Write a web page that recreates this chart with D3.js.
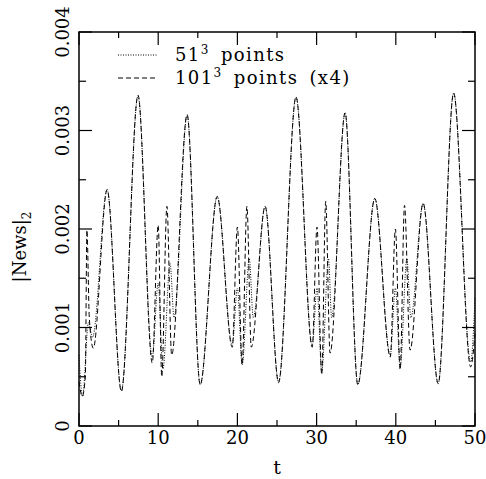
<!DOCTYPE html>
<html>
<head>
<meta charset="utf-8">
<script src="https://cdn.jsdelivr.net/npm/d3@7/dist/d3.min.js"></script>
<style>
  body { margin: 0; background: #fff; }
  svg { display: block; }
  text { font-family: "DejaVu Serif", serif; fill: #000; }
</style>
</head>
<body>
<div id="chart"></div>
<script>
// 51^3 points (dotted)
const coarseT = [0, 0.45, 1.2, 1.7, 3.55, 5.35, 7.45, 9.25, 10.0, 10.6, 11.5, 12.0, 13.65, 15.3, 17.45, 19.35, 20.0, 20.6, 21.5, 22.0, 23.5, 25.2, 27.4, 29.45, 30.05, 30.65, 31.5, 31.9, 33.6, 35.2, 37.35, 39.3, 39.95, 40.55, 41.4, 41.9, 43.45, 45.35, 47.3, 49.45, 50];
const coarseV = [0.00072, 0.0003, 0.00105, 0.0009, 0.0024, 0.00036, 0.00335, 0.0007, 0.00145, 0.00058, 0.00165, 0.0011, 0.00316, 0.00042, 0.00233, 0.00082, 0.0014, 0.00062, 0.0017, 0.0011, 0.00223, 0.00045, 0.00334, 0.00082, 0.0014, 0.00055, 0.0017, 0.0011, 0.00318, 0.00042, 0.00231, 0.00072, 0.0014, 0.0006, 0.0017, 0.0011, 0.00226, 0.00043, 0.00338, 0.00065, 0.0013];

// 101^3 points (x4), dashed
const fineT = [0, 0.4, 0.8, 1.0, 1.3, 1.8, 3.55, 5.35, 7.45, 9.25, 10.0, 10.45, 11.1, 11.7, 13.65, 15.3, 17.45, 19.35, 20.0, 20.6, 21.2, 21.75, 23.5, 25.2, 27.4, 29.45, 30.05, 30.65, 31.15, 31.7, 33.6, 35.2, 37.35, 39.3, 39.95, 40.55, 41.1, 41.8, 43.45, 45.35, 47.3, 49.45, 50];
const fineV = [0.00045, 0.0003, 0.0005, 0.00199, 0.0011, 0.00079, 0.0024, 0.00035, 0.00336, 0.00064, 0.00204, 0.0005, 0.00223, 0.00072, 0.00316, 0.00042, 0.00233, 0.0008, 0.00202, 0.00062, 0.00223, 0.0008, 0.00223, 0.00044, 0.00334, 0.0008, 0.00202, 0.00052, 0.00228, 0.00074, 0.00318, 0.00042, 0.00231, 0.0007, 0.002, 0.00057, 0.00224, 0.00077, 0.00226, 0.00043, 0.00338, 0.0006, 0.00094];

const xTicks = [0, 10, 20, 30, 40, 50];
const yTicks = [0, 0.001, 0.002, 0.003, 0.004];
const yTickLabels = ['0', '0.001', '0.002', '0.003', '0.004'];

const W = 486, H = 479;
const margin = { top: 32, right: 11, bottom: 53, left: 79 };
const iw = W - margin.left - margin.right;
const ih = H - margin.top - margin.bottom;

const svg = d3.select('#chart').append('svg')
  .attr('width', W)
  .attr('height', H);

const g = svg.append('g')
  .attr('transform', `translate(${margin.left},${margin.top})`);

const x = d3.scaleLinear().domain([0, 50]).range([0, iw]);
const y = d3.scaleLinear().domain([0, 0.004]).range([ih, 0]);

// ticks, all pointing inward
const xMinor = d3.range(5, 50, 10);
const yMinor = d3.range(0.0005, 0.004, 0.001);

function tickLines(vals, len, horiz) {
  vals.forEach(v => {
    if (horiz) {
      const px = x(v);
      g.append('line').attr('x1', px).attr('x2', px).attr('y1', ih).attr('y2', ih - len);
      g.append('line').attr('x1', px).attr('x2', px).attr('y1', 0).attr('y2', len);
    } else {
      const py = y(v);
      g.append('line').attr('y1', py).attr('y2', py).attr('x1', 0).attr('x2', len);
      g.append('line').attr('y1', py).attr('y2', py).attr('x1', iw).attr('x2', iw - len);
    }
  });
}
tickLines(xTicks, 13, true);
tickLines(xMinor, 6, true);
tickLines(yTicks, 13, false);
tickLines(yMinor, 7, false);
g.selectAll('line').attr('stroke', '#000').attr('stroke-width', 1.2);

// frame
g.append('rect')
  .attr('width', iw).attr('height', ih)
  .attr('fill', 'none').attr('stroke', '#000').attr('stroke-width', 1.5);

// tick labels
g.selectAll('.xlab').data(xTicks).enter().append('text')
  .attr('x', d => x(d)).attr('y', ih + 18)
  .attr('text-anchor', 'middle')
  .style('font-size', '18px')
  .text(d => d);

g.selectAll('.ylab').data(yTicks).enter().append('text')
  .attr('transform', d => `translate(-10,${y(d)}) rotate(-90)`)
  .attr('text-anchor', 'middle')
  .style('font-size', '18px')
  .text((d, i) => yTickLabels[i]);

// axis titles
g.append('text')
  .attr('x', iw / 2).attr('y', ih + 48)
  .attr('text-anchor', 'middle')
  .style('font-size', '19px')
  .text('t');

const yt = g.append('text')
  .attr('transform', `translate(-53,${ih / 2 + 18}) rotate(-90)`)
  .attr('text-anchor', 'middle')
  .style('font-size', '18px');
yt.append('tspan').text('|News|');
yt.append('tspan').attr('dy', 5).style('font-size', '12px').text('2');

// curves
const line = d3.line()
  .x(d => x(d[0]))
  .y(d => y(d[1]))
  .curve(d3.curveMonotoneX);

const coarse = coarseT.map((t, i) => [t, coarseV[i]]);
const fine = fineT.map((t, i) => [t, fineV[i]]);

g.append('path').datum(coarse)
  .attr('d', line)
  .attr('fill', 'none').attr('stroke', '#000').attr('stroke-width', 1)
  .attr('stroke-dasharray', '1,1.5');

g.append('path').datum(fine)
  .attr('d', line)
  .attr('fill', 'none').attr('stroke', '#000').attr('stroke-width', 1)
  .attr('stroke-dasharray', '5,3');

// legend
const legend = [
  { label: '51', rest: ' points', dash: '1,1.5', yy: 23 },
  { label: '101', rest: ' points (x4)', dash: '5,3', yy: 46 }
];
legend.forEach(l => {
  g.append('line')
    .attr('x1', 39).attr('x2', 79)
    .attr('y1', l.yy).attr('y2', l.yy)
    .attr('stroke', '#000').attr('stroke-width', 1)
    .attr('stroke-dasharray', l.dash);
  const t = g.append('text')
    .attr('x', 96).attr('y', l.yy + 6)
    .style('font-size', '18px')
    .style('letter-spacing', '1.4px');
  t.append('tspan').text(l.label);
  t.append('tspan').attr('dy', -7).style('font-size', '12px').text('3');
  t.append('tspan').attr('dy', 7).style('word-spacing', '4px').text(l.rest);
});
</script>
</body>
</html>
